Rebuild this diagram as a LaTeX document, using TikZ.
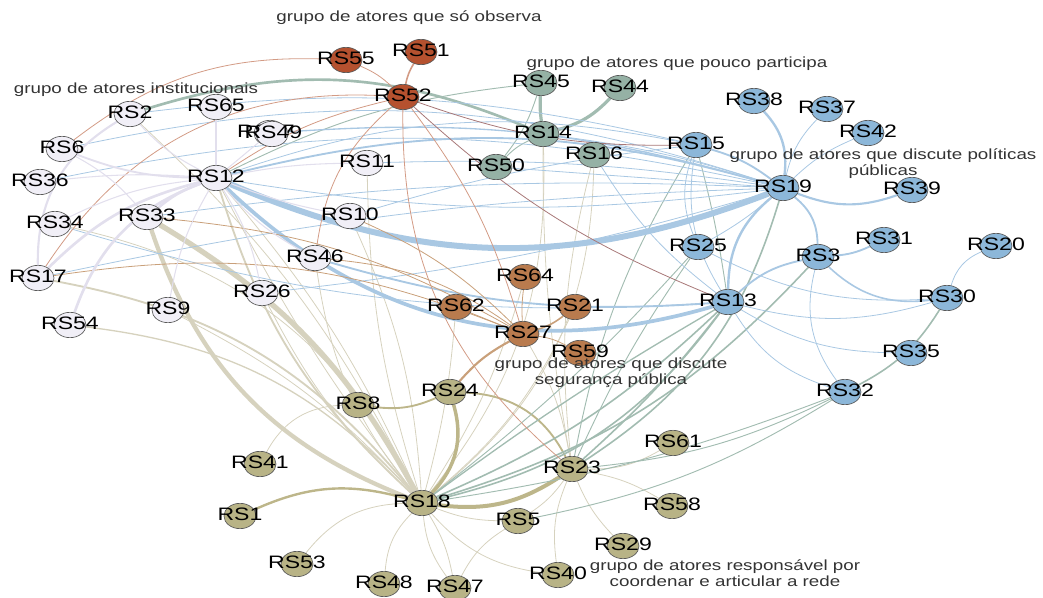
\documentclass[tikz,border=0pt]{standalone}
\usepackage{fontspec}
\newfontfamily\lblfont[FakeStretch=1.28]{Liberation Sans}
\usetikzlibrary{shapes.geometric,backgrounds}

\definecolor{instfill}{HTML}{F1EFF7}
\definecolor{obsfill}{HTML}{B5512F}
\definecolor{poucofill}{HTML}{95B1A5}
\definecolor{polfill}{HTML}{8CB7D9}
\definecolor{segfill}{HTML}{B97B4E}
\definecolor{coordfill}{HTML}{B8B386}
\definecolor{instedge}{HTML}{E2DFED}
\definecolor{obsedge}{HTML}{D39B85}
\definecolor{obsdark}{HTML}{A87878}
\definecolor{poucoedge}{HTML}{A2BCB1}
\definecolor{poledge}{HTML}{A9C8E3}
\definecolor{segedge}{HTML}{C9A07A}
\definecolor{coordedge}{HTML}{D6D2BE}
\definecolor{coorddark}{HTML}{BDB68A}

\tikzset{every label/.style={font=\lblfont\fontsize{13.5}{14}\selectfont,text=black,inner sep=0pt,yshift=1pt}}

\begin{document}
\begin{tikzpicture}[x=0.75pt,y=-0.75pt]
\tikzstyle{actor}=[ellipse,draw=black!65,line width=0.5pt,minimum width=24pt,minimum height=19pt,inner sep=0pt]
\tikzstyle{inst}=[actor,fill=instfill]
\tikzstyle{obs}=[actor,fill=obsfill]
\tikzstyle{pouco}=[actor,fill=poucofill]
\tikzstyle{pol}=[actor,fill=polfill]
\tikzstyle{seg}=[actor,fill=segfill]
\tikzstyle{coord}=[actor,fill=coordfill]
\tikzstyle{group}=[font=\lblfont\fontsize{11}{12}\selectfont,text=black!80,align=center,inner sep=0pt]
\tikzstyle{ce}=[color=coordedge,line width=0.6pt]
\tikzstyle{cd}=[color=coorddark,line width=0.6pt]
\tikzstyle{pe}=[color=poucoedge,line width=0.7pt]
\tikzstyle{ple}=[color=poledge,line width=0.6pt]
\tikzstyle{oe}=[color=obsedge,line width=0.6pt]
\tikzstyle{od}=[color=obsdark,line width=0.6pt]
\tikzstyle{se}=[color=segedge,line width=0.6pt]
\tikzstyle{ie}=[color=instedge,line width=0.8pt]

\useasboundingbox (0,0) rectangle (1043,598);

% institucionais
\node[inst,label=center:RS2]  (RS2)  at (130,114) {};
\node[inst,label=center:RS65] (RS65) at (216,107) {};
\node[inst,label={[xshift=-3pt]center:RS57}] (RS57) at (270,133) {};
\node[inst,label={[xshift=1pt]center:RS49}]  (RS49) at (272,134) {};
\node[inst,label=center:RS6]  (RS6)  at (62,149) {};
\node[inst,label=center:RS36] (RS36) at (40,182) {};
\node[inst,label=center:RS12] (RS12) at (216,178) {};
\node[inst,label=center:RS11] (RS11) at (367,163) {};
\node[inst,label=center:RS33] (RS33) at (147,217) {};
\node[inst,label=center:RS34] (RS34) at (55,224) {};
\node[inst,label=center:RS10] (RS10) at (350,216) {};
\node[inst,label=center:RS46] (RS46) at (315,258) {};
\node[inst,label=center:RS17] (RS17) at (38,278) {};
\node[inst,label=center:RS26] (RS26) at (262,293) {};
\node[inst,label=center:RS9]  (RS9)  at (168,310) {};
\node[inst,label=center:RS54] (RS54) at (70,325) {};
% so observa
\node[obs,label=center:RS55] (RS55) at (346,60) {};
\node[obs,label=center:RS51] (RS51) at (421,52) {};
\node[obs,label=center:RS52] (RS52) at (403,97) {};
% pouco participa
\node[pouco,label=center:RS45] (RS45) at (541,83) {};
\node[pouco,label=center:RS44] (RS44) at (620,88) {};
\node[pouco,label=center:RS14] (RS14) at (543,134) {};
\node[pouco,label=center:RS16] (RS16) at (594,155) {};
\node[pouco,label=center:RS50] (RS50) at (496,167) {};
% politicas publicas
\node[pol,label=center:RS15] (RS15) at (696,145) {};
\node[pol,label=center:RS38] (RS38) at (754,101) {};
\node[pol,label=center:RS37] (RS37) at (827,109) {};
\node[pol,label=center:RS42] (RS42) at (868,133) {};
\node[pol,label=center:RS19] (RS19) at (783,188) {};
\node[pol,label=center:RS39] (RS39) at (912,190) {};
\node[pol,label=center:RS25] (RS25) at (698,247) {};
\node[pol,label=center:RS3]  (RS3)  at (818,257) {};
\node[pol,label=center:RS31] (RS31) at (884,240) {};
\node[pol,label=center:RS20] (RS20) at (996,246) {};
\node[pol,label=center:RS13] (RS13) at (728,302) {};
\node[pol,label=center:RS30] (RS30) at (947,298) {};
\node[pol,label=center:RS35] (RS35) at (911,353) {};
\node[pol,label=center:RS32] (RS32) at (845,392) {};
% seguranca publica
\node[seg,label=center:RS64] (RS64) at (525,277) {};
\node[seg,label=center:RS62] (RS62) at (456,307) {};
\node[seg,label=center:RS21] (RS21) at (575,307) {};
\node[seg,label=center:RS27] (RS27) at (523,334) {};
\node[seg,label=center:RS59] (RS59) at (580,353) {};
% coordenacao
\node[coord,label=center:RS24] (RS24) at (450,392) {};
\node[coord,label=center:RS8]  (RS8)  at (358,405) {};
\node[coord,label=center:RS41] (RS41) at (260,464) {};
\node[coord,label=center:RS1]  (RS1)  at (240,516) {};
\node[coord,label=center:RS18] (RS18) at (422,503) {};
\node[coord,label=center:RS23] (RS23) at (572,469) {};
\node[coord,label=center:RS5]  (RS5)  at (518,521) {};
\node[coord,label=center:RS61] (RS61) at (673,443) {};
\node[coord,label=center:RS58] (RS58) at (672,506) {};
\node[coord,label=center:RS29] (RS29) at (623,546) {};
\node[coord,label=center:RS40] (RS40) at (558,575) {};
\node[coord,label=center:RS53] (RS53) at (297,564) {};
\node[coord,label=center:RS48] (RS48) at (384,584) {};
\node[coord,label=center:RS47] (RS47) at (455,588) {};

\begin{scope}[on background layer]
\path[ce] (RS33) edge[bend left=15,line width=4pt] (RS18)
               edge[bend right=25,line width=3.2pt] (RS18)
 (RS12) edge[bend right=15,line width=1.4pt] (RS18)
        edge[bend left=8] (RS18)
        edge[bend right=5] (RS18)
 (RS17) edge[bend left=20,line width=1.4pt] (RS18)
 (RS54) edge[bend left=20,line width=1pt] (RS18)
 (RS9)  edge[bend left=10] (RS18)
 (RS26) edge[bend right=10] (RS18)
 (RS46) edge[bend right=15] (RS18)
 (RS10) edge[bend left=10] (RS18)
 (RS11) edge[bend right=8] (RS18)
 (RS34) edge[bend left=25] (RS18)
 (RS2)  edge[bend left=10] (RS18)
 (RS18) edge[bend right=25] (RS53)
        edge[bend right=20] (RS48)
        edge[bend left=10] (RS47)
        edge[bend right=15] (RS47)
        edge[bend right=20] (RS40)
        edge[bend right=10] (RS5)
        edge[bend right=20] (RS14)
        edge[bend right=25] (RS16)
        edge[bend right=5] (RS62)
        edge[bend right=8] (RS64)
        edge[bend right=12] (RS21)
 (RS23) edge[bend right=15] (RS61)
        edge[bend left=10] (RS58)
        edge[bend right=10] (RS29)
        edge[bend right=15] (RS40)
        edge[bend left=10] (RS5)
        edge[bend left=10] (RS16)
        edge[bend left=5] (RS14)
        edge[bend right=10] (RS27)
 (RS5)  edge[bend right=15] (RS47)
 (RS8)  edge[bend right=30] (RS41);
\path[cd] (RS24) edge[bend left=30,line width=2.6pt] (RS18)
 (RS23) edge[bend left=20,line width=3pt] (RS18)
 (RS1)  edge[bend left=20,line width=1.8pt] (RS18)
 (RS8)  edge[bend right=15,line width=1.4pt] (RS24)
 (RS24) edge[bend left=30,line width=1.4pt] (RS23);
% pouco participa
\path[pe] (RS14) edge[bend left=5,line width=2.4pt] (RS45)
               edge[bend right=15,line width=2.4pt] (RS44)
               edge[bend right=10] (RS50)
 (RS2)  edge[bend left=20,line width=2pt] (RS14)
 (RS45) edge[bend left=10] (RS50)
        edge[bend right=10] (RS12)
 (RS18) edge[bend right=10,line width=1.2pt] (RS13)
        edge[bend right=20,line width=1.2pt] (RS13)
        edge[bend left=3,line width=1pt] (RS13)
        edge[bend right=15,line width=1.2pt] (RS3)
        edge[bend right=5] (RS25)
 (RS23) edge[bend right=20,line width=1.2pt] (RS19)
        edge[bend left=10] (RS15)
        edge[bend right=5,line width=1.2pt] (RS13)
        edge[bend left=5] (RS25)
 (RS32) edge[bend left=10] (RS23)
        edge[bend left=10] (RS5)
        edge[bend left=6] (RS18)
        edge[bend right=15,line width=1.2pt] (RS30)
 (RS15) edge[bend left=3] (RS13);
% politicas publicas
\path[ple] (RS12) edge[bend right=22,line width=4.5pt] (RS19)
                edge[bend right=30,line width=2.8pt] (RS13)
                edge[bend left=15,line width=1.4pt] (RS19)
                edge[bend left=15] (RS15)
                edge[bend right=8] (RS19)
 (RS6)  edge[bend left=15] (RS19)
 (RS36) edge[bend left=12] (RS19)
 (RS2)  edge[bend left=10] (RS15)
 (RS57) edge[bend left=10,line width=1pt] (RS19)
 (RS17) edge[bend left=5] (RS19)
 (RS33) edge[bend left=5] (RS19)
 (RS26) edge[bend right=5] (RS19)
 (RS46) edge[bend right=10,line width=1.4pt] (RS13)
 (RS10) edge[bend left=5] (RS15)
 (RS11) edge[bend left=5] (RS19)
 (RS34) edge[bend right=10] (RS13)
 (RS50) edge (RS19)
 (RS14) edge[bend left=5] (RS19)
 (RS16) edge[bend right=10] (RS13)
 (RS19) edge[bend right=25,line width=1.8pt] (RS38)
        edge[bend left=15] (RS37)
        edge[bend left=10] (RS42)
        edge[bend right=20,line width=1.6pt] (RS39)
        edge[bend left=25,line width=1.4pt] (RS3)
        edge[bend right=25,line width=1.8pt] (RS13)
        edge[bend left=5] (RS25)
 (RS15) edge[bend left=10,line width=1.4pt] (RS19)
        edge[bend right=20] (RS25)
        edge[bend right=20] (RS13)
 (RS3)  edge[bend right=10,line width=1.4pt] (RS31)
        edge[bend right=25,line width=1.2pt] (RS30)
        edge[bend right=25] (RS32)
 (RS13) edge[bend right=15] (RS30)
        edge[bend right=15] (RS35)
        edge[bend right=20] (RS32)
        edge[bend left=15,line width=1.4pt] (RS3)
 (RS20) edge[bend right=25] (RS30)
 (RS25) edge[bend right=15] (RS30);
% so observa
\path[oe] (RS52) edge[bend right=10] (RS55)
               edge[bend left=10,line width=1.2pt] (RS51)
               edge[bend right=20] (RS46)
               edge[bend right=25] (RS23)
               edge[bend left=10] (RS27)
 (RS17) edge[bend left=30] (RS52)
 (RS6)  edge[bend left=20] (RS55)
 (RS12) edge[bend left=10] (RS52);
\path[od] (RS52) edge[bend right=10] (RS15)
               edge[bend right=10] (RS13);
% seguranca publica
\path[se] (RS27) edge[bend right=10,line width=1.6pt] (RS24)
               edge[bend right=10,line width=1.2pt] (RS21)
               edge[bend left=5] (RS64)
               edge (RS62)
               edge[bend left=10] (RS59)
               edge[bend right=15] (RS46)
               edge[bend right=12] (RS33)
               edge[bend right=15] (RS17)
               edge[bend right=10] (RS10);
% institucionais
\path[ie] (RS6) edge[bend right=10,line width=1.4pt] (RS12)
 (RS36) edge[bend left=5] (RS12)
 (RS34) edge[bend left=10] (RS12)
 (RS17) edge[bend left=15,line width=2pt] (RS12)
 (RS54) edge[bend left=25,line width=2pt] (RS12)
 (RS2)  edge[bend right=10] (RS12)
        edge[bend right=30,line width=1.6pt] (RS17)
 (RS33) edge[bend left=10,line width=2pt] (RS12)
        edge[bend right=10] (RS6)
 (RS9)  edge[bend left=10] (RS12)
 (RS26) edge[bend right=10] (RS12)
 (RS65) edge (RS12)
 (RS57) edge (RS12)
 (RS12) edge[bend left=5] (RS11)
        edge[bend right=5] (RS10)
        edge[bend right=10] (RS46);
\end{scope}

% group labels
\node[group] (gobs)   at (409,18)  {grupo de atores que só observa};
\node[group] (gpouco) at (677,64)  {grupo de atores que pouco participa};
\node[group] (ginst)  at (136,90)  {grupo de atores institucionais};
\node[group] (gpol)   at (883,164) {grupo de atores que discute políticas\\públicas};
\node[group] (gseg)   at (611,373) {grupo de atores que discute\\segurança pública};
\node[group] (gcoord) at (725,573) {grupo de atores responsável por\\coordenar e articular a rede};
\end{tikzpicture}
\end{document}
